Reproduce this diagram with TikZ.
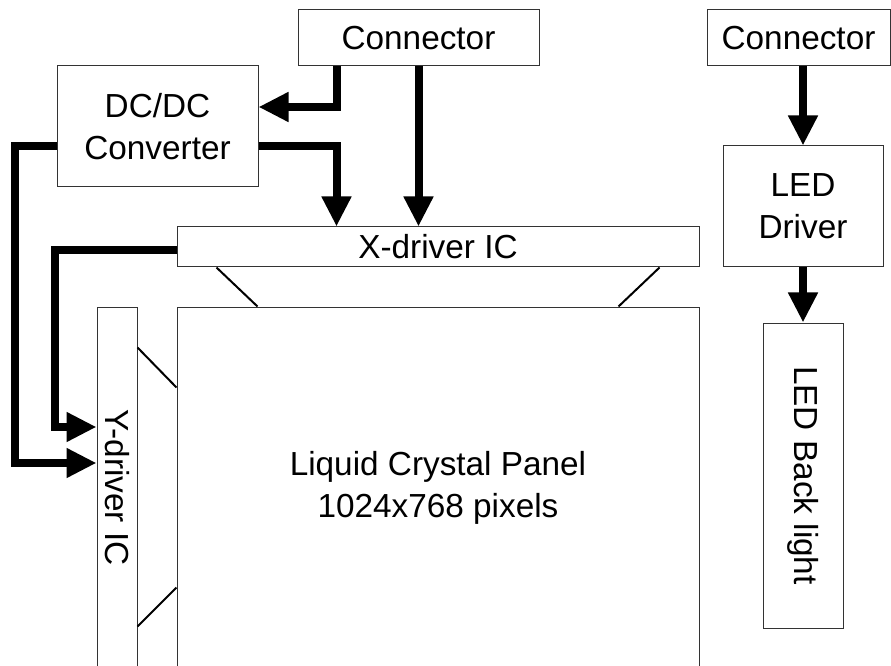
\documentclass[tikz,border=0pt]{standalone}
\usepackage{fontspec}
\setmainfont{Liberation Sans}
\usetikzlibrary{arrows.meta,calc}
\newcommand{\px}{0.75pt}
\tikzset{
  block/.style={draw=black!80, line width=\px, inner sep=0pt, align=center,
    font=\fontsize{25}{31.5}\selectfont},
  sidetext/.style={inner sep=0pt, rotate=-90, font=\fontsize{25}{31.5}\selectfont},
  power/.style={line width=6pt, -{Triangle[length=22.5pt,width=21pt]}},
  flare/.style={line width=1.5pt}
}
\begin{document}
\begin{tikzpicture}[x=0.75pt,y=-0.75pt]
\useasboundingbox (0,0) rectangle (891,666);
\clip (0,0) rectangle (891,666);
% boxes
\node [block, minimum width=241*\px, minimum height=56*\px] (conn) at (418.5,38) {Connector};
\node [block, minimum width=183*\px, minimum height=56*\px] (connled) at (798.5,38) {Connector};
\node [block, minimum width=201*\px, minimum height=121*\px] (dcdc) at (157.5,126.5) {DC/DC\\Converter};
\node [block, minimum width=522*\px, minimum height=40*\px] (xdrv) at (438,247) {X-driver IC};
\node [block, minimum width=160*\px, minimum height=121*\px] (led) at (803,206.5) {LED\\Driver};
\node [block, minimum width=80*\px, minimum height=305*\px] (back) at (803,475.5) {};
\node [sidetext] (backtxt) at (back.center) {LED Back light};
\node [block, minimum width=522*\px, minimum height=361*\px] (panel) at (438,487.5) {Liquid Crystal Panel\\1024x768 pixels};
\node [block, minimum width=40*\px, minimum height=361*\px] (ydrv) at (117,487.5) {};
\node [sidetext] (ydrvtxt) at (ydrv.center) {Y-driver IC};

% flex lines between drivers and panel
\draw [flare] ($(xdrv.south west)+(40,0)$) -- ($(panel.north west)+(81,0)$);
\draw [flare] ($(xdrv.south east)+(-40,0)$) -- ($(panel.north east)+(-81,0)$);
\draw [flare] ($(ydrv.north east)+(0,41)$) -- ($(panel.north west)+(0,81)$);
\draw [flare] ($(ydrv.north east)+(0,320)$) -- ($(panel.north west)+(0,281)$);

% power and signal arrows
\draw [power] ($(conn.south west)+(39,0)$) |- ($(dcdc.east)+(0,-19.5)$);
\draw [power] (conn.south) -- (conn.south |- xdrv.north);
\draw [power] ($(dcdc.east)+(0,19.5)$) -| ($(xdrv.north west)+(160,0)$);
\draw [power] ($(dcdc.west)+(0,19.5)$) -- ++(-42,0) |- ($(ydrv.west)+(0,-24.5)$);
\draw [power] ($(xdrv.west)+(0,3)$) -- ++(-122,0) |- ($(ydrv.west)+(0,-60.5)$);
\draw [power] (led.north |- connled.south) -- (led.north);
\draw [power] (led.south) -- (back.north);
\end{tikzpicture}
\end{document}
